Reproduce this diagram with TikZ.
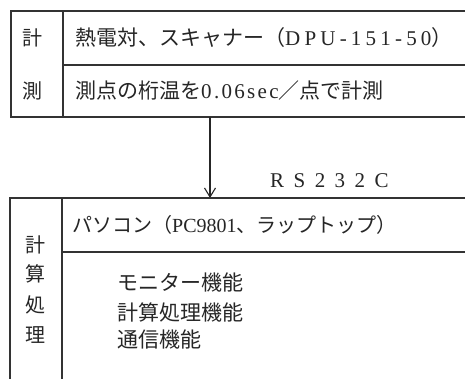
\documentclass[tikz,border=0pt]{standalone}
\usepackage{fontspec}
\setmainfont{Liberation Serif}
\newfontfamily\cjk{Noto Sans CJK JP}
\newfontfamily\wide[LetterSpace=11]{Liberation Serif}
\newfontfamily\wider[LetterSpace=20]{Liberation Serif}
\newfontfamily\spaced[LetterSpace=45]{Liberation Serif}
\usetikzlibrary{arrows.meta}
\begin{document}
\begin{tikzpicture}[x=1pt,y=-1pt,
  frame/.style={line width=1.1pt, draw=black!80, line join=miter},
  txt/.style={anchor=west, inner sep=0pt, font=\fontsize{21}{25}\selectfont, text=black!85},
  txtsm/.style={anchor=west, inner sep=0pt, font=\fontsize{20}{24}\selectfont, text=black!85},
  side/.style={anchor=center, inner sep=0pt, font=\cjk\fontsize{20}{24}\selectfont, text=black!85},
  flow/.style={line width=1.1pt, draw=black!85, -{Straight Barb[length=9pt,width=11pt,line width=1.1pt]}}]
\useasboundingbox (0,0) rectangle (465,379);
\fill[white] (0,0) rectangle (465,379);
% top block
\draw[frame] (465,11) -- (11,11) -- (11,117) -- (465,117);
\draw[frame] (63,11) -- (63,117);
\draw[frame] (63,65) -- (465,65);
\node[side] (s1) at (32,38) {計};
\node[side] (s2) at (32,91) {測};
\node[txt] (t1) at (75,38) {{\cjk 熱電対、スキャナー（}{\wider DPU-151-50}{\cjk ）}};
\node[txt] (t2) at (75,91) {{\cjk 測点の桁温を}{\wide 0.06sec}{\cjk ／点で計測}};
% connector
\coordinate (src) at (210,117);
\coordinate (dst) at (210,198);
\draw[flow] (src) -- (dst);
\node[txt] (rs) at (270,181) {\spaced RS232C};
% bottom block
\draw[frame] (465,198) -- (10,198) -- (10,379);
\draw[frame] (62,198) -- (62,379);
\draw[frame] (62,252) -- (465,252);
\node[side] (b1) at (35,245) {計};
\node[side] (b2) at (35,274) {算};
\node[side] (b3) at (35,305) {処};
\node[side] (b4) at (35,335) {理};
\node[txtsm] (p1) at (72,225) {{\cjk パソコン（}PC9801{\cjk 、ラップトップ）}};
\node[txt] (f1) at (117,283) {\cjk モニター機能};
\node[txt] (f2) at (117,312) {\cjk 計算処理機能};
\node[txt] (f3) at (117,340) {\cjk 通信機能};
\end{tikzpicture}
\end{document}
